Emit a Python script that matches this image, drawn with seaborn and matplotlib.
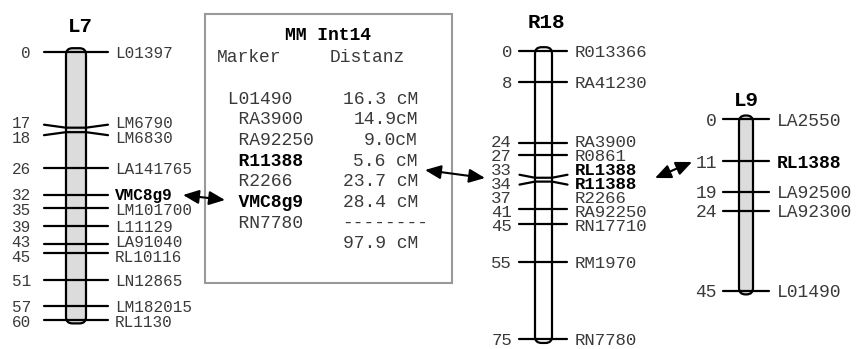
import matplotlib
matplotlib.use('Agg')
import matplotlib.pyplot as plt
from matplotlib.patches import FancyBboxPatch, FancyArrowPatch, Rectangle
import pandas as pd
import seaborn as sns

# Marker (cM) der drei Kopplungsgruppen
l7_pos = [0, 17, 18, 26, 32, 35, 39, 43, 45, 51, 57, 60]
l7_names = ['L01397', 'LM6790', 'LM6830', 'LA141765', 'VMC8g9', 'LM101700',
            'L11129', 'LA91040', 'RL10116', 'LN12865', 'LM182015', 'RL1130']
r18_pos = [0, 8, 24, 27, 33, 34, 37, 41, 45, 55, 75]
r18_names = ['R013366', 'RA41230', 'RA3900', 'R0861', 'RL1388', 'R11388',
             'R2266', 'RA92250', 'RN17710', 'RM1970', 'RN7780']
l9_pos = [0, 11, 19, 24, 45]
l9_names = ['LA2550', 'RL1388', 'LA92500', 'LA92300', 'L01490']
bold_markers = ['VMC8g9', 'RL1388', 'R11388']
no_tick = ['R2266']

# Tabelle MM Int14
box_markers = ['L01490', 'RA3900', 'RA92250', 'R11388', 'R2266', 'VMC8g9', 'RN7780']
box_dist = ['16.3 cM', '14.9cM', '9.0cM', '5.6 cM', '23.7 cM', '28.4 cM']
box_total = '97.9 cM'

sns.set_theme(style='white')
plt.rcParams['font.family'] = ['Liberation Mono', 'DejaVu Sans Mono']
txt = '#3a3a3a'

# Layout in Pixel: Mitte, Balkenbreite, y(0 cM), px/cM, Tickbreite, ...
layout = {
    'L7': dict(pos=l7_pos, names=l7_names, cx=76, w=20, top=51.7, k=4.47, half=32,
               fill='#dcdcdc', fs=11.5, num_x=31, name_x=115, title=(80, 27), gap=15),
    'R18': dict(pos=r18_pos, names=r18_names, cx=543.5, w=17, top=50.7, k=3.85, half=24,
                fill='white', fs=12.5, num_x=512, name_x=575, title=(546, 22), gap=14),
    'L9': dict(pos=l9_pos, names=l9_names, cx=746, w=14, top=119, k=3.82, half=23,
               fill='#dcdcdc', fs=13, num_x=717, name_x=777, title=(746, 100), gap=14),
}


def spread(ys, gap):
    ys = list(ys)
    for _ in range(60):
        for i in range(len(ys) - 1):
            d = ys[i + 1] - ys[i]
            if d < gap:
                ys[i] -= (gap - d) / 2
                ys[i + 1] += (gap - d) / 2
    return ys


fig = plt.figure(figsize=(8.56, 3.49), dpi=100)
ax = fig.add_axes([0, 0, 1, 1])

rows = []
for chrom, c in layout.items():
    ys = [c['top'] + p * c['k'] for p in c['pos']]
    ly = spread(ys, c['gap'])
    x0, x1 = c['cx'] - c['half'], c['cx'] + c['half']
    bl, br = c['cx'] - c['w'] / 2, c['cx'] + c['w'] / 2
    # Chromosomenbalken
    h = ys[-1] - ys[0]
    ax.add_patch(FancyBboxPatch((bl, ys[0] - 3.5), c['w'], h + 7,
                                boxstyle='round,pad=0,rounding_size=6.5',
                                fc=c['fill'], ec='black', lw=1.6, zorder=2))
    for i, (p, name) in enumerate(zip(c['pos'], c['names'])):
        y, yl = ys[i], ly[i]
        if name not in no_tick:
            # sehr enge Nachbarn: Enden auseinanderbiegen
            bend = 0
            if i > 0 and y - ys[i - 1] < 6:
                bend = 3
            if i < len(ys) - 1 and ys[i + 1] - y < 6:
                bend = -3
            seg = f'{chrom}{i}'
            for xx, yy in [(x0, y + bend), (bl, y), (br, y), (x1, y + bend)]:
                rows.append(dict(x=xx, y=yy, seg=seg))
        weight = 'bold' if name in bold_markers else 'normal'
        col = 'black' if name in bold_markers else txt
        ax.text(c['num_x'], yl, str(p), ha='right', va='center_baseline',
                fontsize=c['fs'], color=txt)
        ax.text(c['name_x'], yl, name, ha='left', va='center_baseline',
                fontsize=c['fs'], color=col, fontweight=weight)
    ax.text(*c['title'], chrom, ha='center', va='center', fontsize=15,
            fontweight='bold', color='black')

ticks = pd.DataFrame(rows)
sns.lineplot(data=ticks, x='x', y='y', units='seg', estimator=None, sort=False,
             color='black', lw=1.6, ax=ax, zorder=3, legend=False)

# Kasten mit Distanzen
ax.add_patch(Rectangle((205, 14), 247, 269, fc='white', ec='#999999', lw=1.5, zorder=1))
fs = 13
ax.text(328, 33, 'MM Int14', ha='center', va='center_baseline', fontsize=fs,
        fontweight='bold', color='black')
ax.text(217, 55, 'Marker', ha='left', va='center_baseline', fontsize=fs, color=txt)
ax.text(330, 55, 'Distanz', ha='left', va='center_baseline', fontsize=fs, color=txt)
row_h = 20.7
for i, m in enumerate(box_markers):
    y = 97 + i * row_h
    pad = ' ' if i == 0 else '  '
    b = m in bold_markers
    ax.text(217, y, pad + m, ha='left', va='center_baseline', fontsize=fs,
            color='black' if b else txt, fontweight='bold' if b else 'normal')
for i, d in enumerate(box_dist):
    ax.text(418, 97 + i * row_h, d, ha='right', va='center_baseline', fontsize=fs, color=txt)
ax.text(342, 97 + len(box_dist) * row_h, '--------', ha='left', va='center_baseline',
        fontsize=fs, color=txt)
ax.text(418, 97 + (len(box_dist) + 1) * row_h, box_total, ha='right',
        va='center_baseline', fontsize=fs, color=txt)

# Verbindungspfeile
for a, b in [((183, 195), (225, 200)), ((425, 170), (485, 178)), ((655, 178), (692, 162))]:
    ax.add_patch(FancyArrowPatch(a, b, arrowstyle='<|-|>,head_length=0.8,head_width=0.35',
                                 mutation_scale=12, color='black', lw=1.5,
                                 shrinkA=0, shrinkB=0, zorder=4))

ax.set_xlim(0, 856)
ax.set_ylim(349, 0)
ax.axis('off')
fig.savefig('out.png', dpi=100)
